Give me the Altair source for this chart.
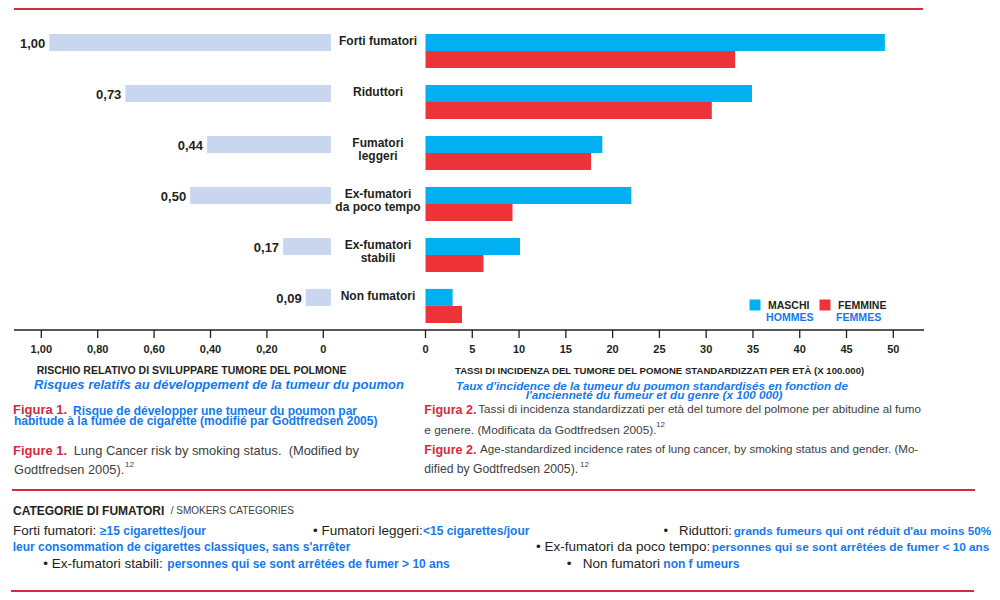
import altair as alt
import pandas as pd

# ---------------- data ----------------
categories = ["Forti fumatori", "Riduttori", "Fumatori leggeri",
              "Ex-fumatori da poco tempo", "Ex-fumatori stabili", "Non fumatori"]
cat_line1 = ["Forti fumatori", "Riduttori", "Fumatori", "Ex-fumatori", "Ex-fumatori", "Non fumatori"]
cat_line2 = ["", "", "leggeri", "da poco tempo", "stabili", ""]
risk = [1.00, 0.73, 0.44, 0.50, 0.17, 0.09]
risk_labels = ["1,00", "0,73", "0,44", "0,50", "0,17", "0,09"]
maschi = [49.1, 34.9, 18.9, 22.0, 10.1, 2.9]
femmine = [33.1, 30.6, 17.7, 9.3, 6.2, 3.9]
sexes = ["MASCHI", "FEMMINE"]
sexes_fr = ["HOMMES", "FEMMES"]
left_ticks = [1.0, 0.8, 0.6, 0.4, 0.2, 0.0]
left_tick_labels = ["1,00", "0,80", "0,60", "0,40", "0,20", "0"]
right_ticks = [0, 5, 10, 15, 20, 25, 30, 35, 40, 45, 50]
right_tick_labels = [str(v) for v in right_ticks]

# ---------------- styles ----------------
BLUE = "#00B0F0"
RED = "#EE3338"
LIGHT = "#C8D7EF"
DARK = "#231F20"
GRAY = "#404040"
CRIMSON = "#D52B3E"
TXTBLUE = "#1479F0"
ARIAL = "'Liberation Sans', Arial, sans-serif"
NB = "\u00a0"
M = 8  # page margin

df_risk = pd.DataFrame({"category": categories, "risk": risk, "label": risk_labels,
                        "l1": cat_line1, "l2": cat_line2})
df_inc = pd.DataFrame({
    "category": categories * 2,
    "sex": [sexes[0]] * len(categories) + [sexes[1]] * len(categories),
    "value": maschi + femmine,
})
df_lt = pd.DataFrame({"v": left_ticks, "t": left_tick_labels})
df_rt = pd.DataFrame({"v": right_ticks, "t": right_tick_labels})
df_leg = pd.DataFrame({"sex": sexes, "fr": sexes_fr})

risk_bar_scale = alt.Scale(domain=[0, 1], range=[331 - M, 49.3 - M])
risk_axis_scale = alt.Scale(domain=[0, 1], range=[323.3 - M, 41.3 - M])
inc_scale = alt.Scale(domain=[0, 50], range=[425.5 - M, 893.3 - M])
cat_m = alt.Scale(type="point", domain=categories, range=[42.4 - M, 297.4 - M], padding=0)
cat_f = alt.Scale(type="point", domain=categories, range=[59.4 - M, 314.4 - M], padding=0)
sex_color = alt.Scale(domain=sexes, range=[BLUE, RED])
leg_x = alt.Scale(type="point", domain=sexes, range=[755 - M, 825 - M], padding=0)


def txt(s, x, y, color=DARK, font=ARIAL, size=12, weight="normal", style="normal", align="left"):
    return alt.Chart(pd.DataFrame({"t": [s]})).mark_text(
        align=align, baseline="middle", font=font, fontSize=size,
        fontWeight=weight, fontStyle=style, color=color
    ).encode(x=alt.value(x - M), y=alt.value(y - M), text="t:N")


def hrule(x1, x2, y, color, w):
    return alt.Chart(pd.DataFrame({"a": [0]})).mark_rule(color=color, strokeWidth=w).encode(
        x=alt.value(x1 - M), x2=alt.value(x2 - M), y=alt.value(y - M))


layers = []

# ---- left chart: relative risk ----
base_r = alt.Chart(df_risk)
layers.append(base_r.mark_bar(height=17, color=LIGHT).encode(
    x=alt.X("risk:Q", scale=risk_bar_scale, axis=None, stack=None),
    y=alt.Y("category:N", scale=cat_m, axis=None)))
layers.append(base_r.mark_text(align="right", baseline="middle", dx=-4, dy=1.5, font=ARIAL,
                               fontSize=13, fontWeight="bold", color=DARK).encode(
    x=alt.X("risk:Q", scale=risk_bar_scale, axis=None),
    y=alt.Y("category:N", scale=cat_m, axis=None), text="label:N"))
layers.append(base_r.mark_text(align="center", baseline="middle", dy=-1.5, font=ARIAL,
                               fontSize=12, fontWeight="bold", color=DARK).encode(
    x=alt.value(378 - M), y=alt.Y("category:N", scale=cat_m, axis=None), text="l1:N"))
layers.append(base_r.mark_text(align="center", baseline="middle", dy=12, font=ARIAL,
                               fontSize=12, fontWeight="bold", color=DARK).encode(
    x=alt.value(378 - M), y=alt.Y("category:N", scale=cat_m, axis=None), text="l2:N"))

# ---- right chart: incidence ----
base_i = alt.Chart(df_inc)
layers.append(base_i.transform_filter(alt.datum.sex == sexes[0]).mark_bar(height=17).encode(
    x=alt.X("value:Q", scale=inc_scale, axis=None, stack=None),
    y=alt.Y("category:N", scale=cat_m, axis=None),
    color=alt.Color("sex:N", scale=sex_color, legend=None)))
layers.append(base_i.transform_filter(alt.datum.sex == sexes[1]).mark_bar(height=17).encode(
    x=alt.X("value:Q", scale=inc_scale, axis=None, stack=None),
    y=alt.Y("category:N", scale=cat_f, axis=None),
    color=alt.Color("sex:N", scale=sex_color, legend=None)))

# ---- axes ----
layers.append(hrule(14, 924, 330, DARK, 1.3))
layers.append(alt.Chart(df_lt).mark_rule(color=DARK, strokeWidth=1.3).encode(
    x=alt.X("v:Q", scale=risk_axis_scale, axis=None), y=alt.value(330 - M), y2=alt.value(338 - M)))
layers.append(alt.Chart(df_lt).mark_text(baseline="middle", font=ARIAL, fontSize=11,
                                         fontWeight="bold", color=DARK).encode(
    x=alt.X("v:Q", scale=risk_axis_scale, axis=None), y=alt.value(350 - M), text="t:N"))
layers.append(alt.Chart(df_rt).mark_rule(color=DARK, strokeWidth=1.3).encode(
    x=alt.X("v:Q", scale=inc_scale, axis=None), y=alt.value(330 - M), y2=alt.value(338 - M)))
layers.append(alt.Chart(df_rt).mark_text(baseline="middle", font=ARIAL, fontSize=11,
                                         fontWeight="bold", color=DARK).encode(
    x=alt.X("v:Q", scale=inc_scale, axis=None), y=alt.value(350 - M), text="t:N"))

# axis titles
layers.append(txt("RISCHIO RELATIVO DI SVILUPPARE TUMORE DEL POLMONE", 36.7, 371, size=10.5, weight="bold"))
layers.append(txt("Risques relatifs au développement de la tumeur du poumon", 34, 385,
                  color=TXTBLUE, size=13, weight="bold", style="italic"))
layers.append(txt("TASSI DI INCIDENZA DEL TUMORE DEL POMONE STANDARDIZZATI PER ETÀ (X 100.000)", 455, 371,
                  size=9.6, weight="bold"))
layers.append(txt("Taux d'incidence de la tumeur du poumon standardisés en fonction de", 652, 385.5,
                  color=TXTBLUE, size=11.7, weight="bold", style="italic", align="center"))
layers.append(txt("l'ancienneté du fumeur et du genre (x 100 000)", 654, 395,
                  color=TXTBLUE, size=11.7, weight="bold", style="italic", align="center"))

# ---- legend ----
base_l = alt.Chart(df_leg)
layers.append(base_l.mark_square(size=121, opacity=1).encode(
    x=alt.X("sex:N", scale=leg_x, axis=None), y=alt.value(305 - M),
    color=alt.Color("sex:N", scale=sex_color, legend=None)))
layers.append(base_l.mark_text(align="left", baseline="middle", dx=13, font=ARIAL, fontSize=10.5,
                               fontWeight="bold", color=DARK).encode(
    x=alt.X("sex:N", scale=leg_x, axis=None), y=alt.value(305.5 - M), text="sex:N"))
layers.append(base_l.mark_text(align="left", baseline="middle", dx=11, font=ARIAL, fontSize=10.6,
                               fontWeight="bold", color=TXTBLUE).encode(
    x=alt.X("sex:N", scale=leg_x, axis=None), y=alt.value(318 - M), text="fr:N"))

# ---- captions ----
layers.append(txt("Figura 1.", 13, 410, color=CRIMSON, size=13, weight="bold"))
layers.append(txt("Risque de développer une tumeur du poumon par", 73, 410.7, color=TXTBLUE, size=12, weight="bold"))
layers.append(txt("habitude à la fumée de cigarette (modifié par Godtfredsen 2005)", 14, 420.7,
                  color=TXTBLUE, size=12, weight="bold"))
layers.append(txt("Figure 1.", 13, 450.7, color=CRIMSON, size=13, weight="bold"))
layers.append(txt("Lung Cancer risk by smoking status." + NB + NB + "(Modified by", 73.7, 450.7,
                  color=GRAY, size=12.9))
layers.append(txt("Godtfredsen 2005).", 14, 470, color=GRAY, size=12.8))
layers.append(txt("12", 125, 465, color=GRAY, size=8))

layers.append(txt("Figura 2.", 424.3, 410, color=CRIMSON, size=12.5, weight="bold"))
layers.append(txt("Tassi di incidenza standardizzati per età del tumore del polmone per abitudine al fumo",
                  478.3, 410, color=GRAY, size=11.65))
layers.append(txt("e genere. (Modificata da Godtfredsen 2005).", 424.3, 430, color=GRAY, size=11.8))
layers.append(txt("12", 656, 425, color=GRAY, size=8))
layers.append(txt("Figure 2.", 424.3, 450, color=CRIMSON, size=12.5, weight="bold"))
layers.append(txt("Age-standardized incidence rates of lung cancer, by smoking status and gender. (Mo-",
                  480, 450, color=GRAY, size=11.6))
layers.append(txt("dified by Godtfredsen 2005).", 424.3, 469, color=GRAY, size=12.2))
layers.append(txt("12", 580, 465, color=GRAY, size=8))

# ---- smokers categories ----
layers.append(txt("CATEGORIE DI FUMATORI", 13, 510.7, size=12, weight="bold"))
layers.append(txt("/ SMOKERS CATEGORIES", 170.7, 510.7, color=GRAY, size=10))
layers.append(txt("Forti fumatori:", 13, 531, size=13.5))
layers.append(txt("≥15 cigarettes/jour", 100, 531, color=TXTBLUE, size=12, weight="bold"))
layers.append(txt("• Fumatori leggeri:", 313, 531, size=13.5))
layers.append(txt("<15 cigarettes/jour", 423, 531, color=TXTBLUE, size=12, weight="bold"))
layers.append(txt("•" + NB + NB + NB + "Riduttori:", 663.5, 531, size=13.2))
layers.append(txt("grands fumeurs qui ont réduit d'au moins 50%", 733.7, 531, color=TXTBLUE, size=11.7, weight="bold"))
layers.append(txt("leur consommation de cigarettes classiques, sans s'arrêter", 12.7, 546.7,
                  color=TXTBLUE, size=12, weight="bold"))
layers.append(txt("• Ex-fumatori da poco tempo:", 536, 546.7, size=13.5))
layers.append(txt("personnes qui se sont arrêtées de fumer < 10 ans", 711.7, 546.7, color=TXTBLUE, size=11.8, weight="bold"))
layers.append(txt("• Ex-fumatori stabili:", 43.3, 564, size=13.5))
layers.append(txt("personnes qui se sont arrêtées de fumer > 10 ans", 167.3, 564, color=TXTBLUE, size=12, weight="bold"))
layers.append(txt("•" + NB + NB + NB + "Non fumatori", 566.7, 564, size=13.5))
layers.append(txt("non f umeurs", 663.3, 564, color=TXTBLUE, size=12, weight="bold"))

# ---- red rules ----
layers.append(hrule(14, 923, 9, CRIMSON, 2))
layers.append(hrule(12, 975, 490, CRIMSON, 2))
layers.append(hrule(11, 974, 591, CRIMSON, 2))

chart = alt.layer(*layers).resolve_scale(x="independent", y="independent").properties(
    width=984, height=584, padding=0, autosize=alt.AutoSizeParams(type="none")
).configure_view(stroke=None)

chart.save("out.html", embed_options={"renderer": "svg", "actions": False})
